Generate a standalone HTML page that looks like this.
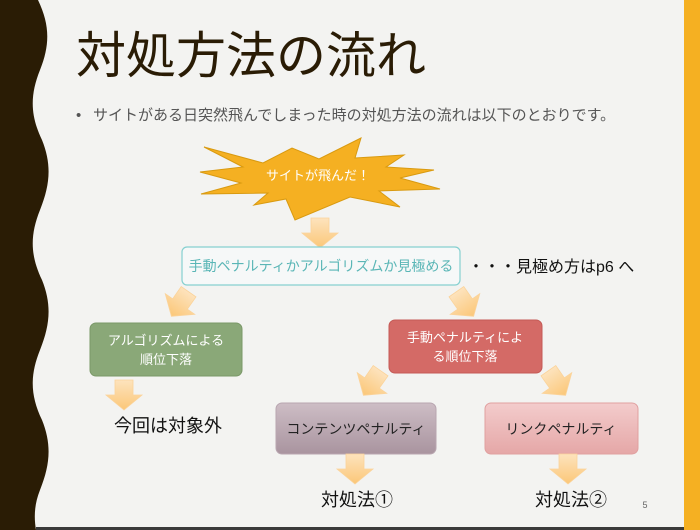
<!DOCTYPE html>
<html><head><meta charset="utf-8"><style>
html,body{margin:0;padding:0;background:#f3f3f1;}
svg{display:block;}
text{font-family:"Liberation Sans","Noto Sans CJK JP",sans-serif;}
</style></head><body>
<svg width="700" height="530" viewBox="0 0 700 530" xmlns="http://www.w3.org/2000/svg">
<defs>
<linearGradient id="ar" x1="0" y1="0" x2="0" y2="1"><stop offset="0" stop-color="#fde3bd"/><stop offset="1" stop-color="#fbc778"/></linearGradient>
<linearGradient id="pu" x1="0" y1="0" x2="0" y2="1"><stop offset="0" stop-color="#cdbdc5"/><stop offset="1" stop-color="#a9949f"/></linearGradient>
<linearGradient id="pk" x1="0" y1="0" x2="0" y2="1"><stop offset="0" stop-color="#f3cccc"/><stop offset="1" stop-color="#e5a7a7"/></linearGradient>
<g id="arr"><polygon points="-9,-15 9,-15 9,0 18,0 0,15 -18,0 -9,0" fill="url(#ar)" stroke="#fbd39a" stroke-width="0.8"/></g>
</defs>
<rect width="700" height="530" fill="#f3f3f1"/>
<path d="M0,0 L38,0 C50,25 50,45 40,70 C30,95 30,115 42,140 C52,165 50,185 40,210 C30,235 30,255 42,280 C52,305 50,325 40,350 C30,375 30,395 42,420 C52,445 50,465 40,490 C34,505 34,518 36,530 L0,530 Z" fill="#2a1c05"/>
<rect x="684" y="0" width="16" height="530" fill="#f5b022"/>
<rect x="36" y="527" width="648" height="3" fill="#3a3a3a"/>
<text x="76" y="73" font-size="50" fill="#2a1c05">対処方法の流れ</text>
<text x="76" y="120" font-size="15" fill="#555">•</text>
<text x="93" y="120" font-size="15" fill="#555">サイトがある日突然飛んでしまった時の対処方法の流れは以下のとおりです。</text>
<polygon points="204,147 263,163 292,148 319,159 361,138 355,158 404,155 386,167 434,170 400,178 440,189 379,191 400,207 350,197 295,220 286,199 254,205 268,193 201,194 241,183 200,172 243,167" fill="#f5b022" stroke="#d99a10" stroke-width="1"/>
<text x="318" y="180" font-size="13" fill="#fff" text-anchor="middle">サイトが飛んだ！</text>
<use href="#arr" transform="translate(320,233)"/>
<rect x="182" y="247" width="278" height="38" rx="5" fill="#f6f8f8" stroke="#86d0d0" stroke-width="1.2"/>
<text x="321" y="271" font-size="14" fill="#5ab6b6" text-anchor="middle">手動ペナルティかアルゴリズムか見極める</text>
<text x="468" y="272" font-size="16" fill="#111">・・・見極め方はp6 へ</text>
<use href="#arr" transform="translate(180,304) rotate(35)"/>
<use href="#arr" transform="translate(465,304) rotate(-35)"/>
<rect x="90" y="323" width="152" height="53" rx="6" fill="#8aa878" stroke="#7a9868"/>
<text x="166" y="345" font-size="13" fill="#fff" text-anchor="middle">アルゴリズムによる</text>
<text x="166" y="364" font-size="13" fill="#fff" text-anchor="middle">順位下落</text>
<rect x="389" y="320" width="153" height="53" rx="6" fill="#d46a66" stroke="#c45a56"/>
<text x="465" y="342" font-size="13" fill="#fff" text-anchor="middle">手動ペナルティによ</text>
<text x="465" y="361" font-size="13" fill="#fff" text-anchor="middle">る順位下落</text>
<use href="#arr" transform="translate(124,395)"/>
<text x="168" y="432" font-size="18" fill="#111" text-anchor="middle">今回は対象外</text>
<use href="#arr" transform="translate(372,383) rotate(35)"/>
<use href="#arr" transform="translate(557,383) rotate(-35)"/>
<rect x="276" y="403" width="160" height="51" rx="6" fill="url(#pu)" stroke="#b8a6b0"/>
<text x="356" y="434" font-size="14" fill="#222" text-anchor="middle">コンテンツペナルティ</text>
<rect x="485" y="403" width="153" height="51" rx="6" fill="url(#pk)" stroke="#e0a0a0"/>
<text x="561" y="434" font-size="14" fill="#222" text-anchor="middle">リンクペナルティ</text>
<use href="#arr" transform="translate(355,469)"/>
<use href="#arr" transform="translate(568,469)"/>
<text x="357" y="506" font-size="18" fill="#111" text-anchor="middle">対処法①</text>
<text x="571" y="506" font-size="18" fill="#111" text-anchor="middle">対処法②</text>
<text x="645" y="508" font-size="9" fill="#666" text-anchor="middle">5</text>
</svg>
</body></html>
